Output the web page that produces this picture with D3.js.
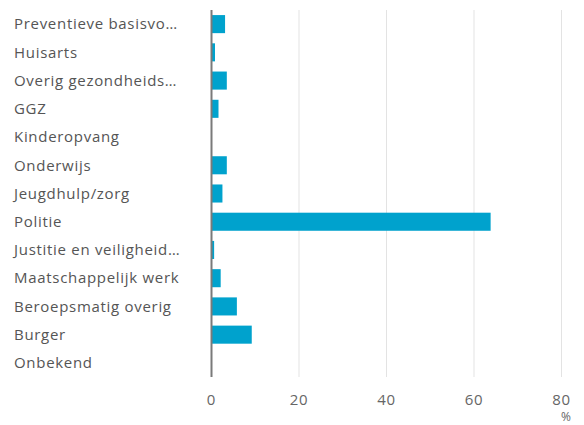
<!DOCTYPE html>
<html>
<head>
<meta charset="utf-8">
<script src="https://cdn.jsdelivr.net/npm/d3@7"></script>
<style>
  body { margin: 0; background: #fff; }
  text { font-family: "Open Sans", "Noto Sans", sans-serif; }
</style>
</head>
<body>
<div id="chart"></div>
<script>
var categories = ["Preventieve basisvo\u2026", "Huisarts", "Overig gezondheids\u2026", "GGZ",
  "Kinderopvang", "Onderwijs", "Jeugdhulp/zorg", "Politie", "Justitie en veiligheid\u2026",
  "Maatschappelijk werk", "Beroepsmatig overig", "Burger", "Onbekend"];
var values = [3.1, 0.8, 3.5, 1.6, 0, 3.5, 2.5, 63.8, 0.6, 2.1, 5.8, 9.2, 0];
var ticks = [0, 20, 40, 60, 80];

var svg = d3.select("#chart").append("svg")
  .attr("width", 584)
  .attr("height", 425);

var margin = {top: 10, right: 23, bottom: 48, left: 211.5},
  width = 584 - margin.left - margin.right,
  height = 425 - margin.top - margin.bottom;

var x = d3.scaleLinear().domain([0, 80]).range([margin.left, margin.left + 350]);
var y = d3.scaleBand().domain(categories)
  .range([margin.top, margin.top + height])
  .paddingInner(0.36).paddingOuter(0.18);

// gridlines
svg.append("g").selectAll("line")
  .data(ticks.slice(1))
  .enter().append("line")
  .attr("x1", function(d) { return x(d); })
  .attr("x2", function(d) { return x(d); })
  .attr("y1", margin.top)
  .attr("y2", margin.top + height)
  .style("stroke", "#e3e3e3")
  .style("stroke-width", 1);

// bars
svg.append("g").selectAll("rect")
  .data(values)
  .enter().append("rect")
  .attr("x", x(0))
  .attr("y", function(d, i) { return y(categories[i]); })
  .attr("width", function(d) { return x(d) - x(0); })
  .attr("height", y.bandwidth())
  .style("fill", "#00a2cd");

// zero axis line
svg.append("line")
  .attr("x1", x(0)).attr("x2", x(0))
  .attr("y1", margin.top).attr("y2", margin.top + height)
  .style("stroke", "#7a7a7a")
  .style("stroke-width", 2);

// category labels
svg.append("g").selectAll("text")
  .data(categories)
  .enter().append("text")
  .attr("x", 14)
  .attr("y", function(d) { return y(d) + y.bandwidth() / 2; })
  .attr("dy", "0.35em")
  .style("font-size", "15px")
  .style("letter-spacing", "0.7px")
  .style("fill", "#555")
  .text(function(d) { return d; });

// x tick labels
svg.append("g").selectAll("text")
  .data(ticks)
  .enter().append("text")
  .attr("x", function(d) { return x(d); })
  .attr("y", 405)
  .attr("text-anchor", "middle")
  .style("font-size", "15px")
  .style("letter-spacing", "0.7px")
  .style("fill", "#666")
  .text(function(d) { return d; });

svg.append("text")
  .attr("x", 566)
  .attr("y", 421)
  .attr("text-anchor", "middle")
  .style("font-size", "12px")
  .style("fill", "#666")
  .text("%");
</script>
</body>
</html>
